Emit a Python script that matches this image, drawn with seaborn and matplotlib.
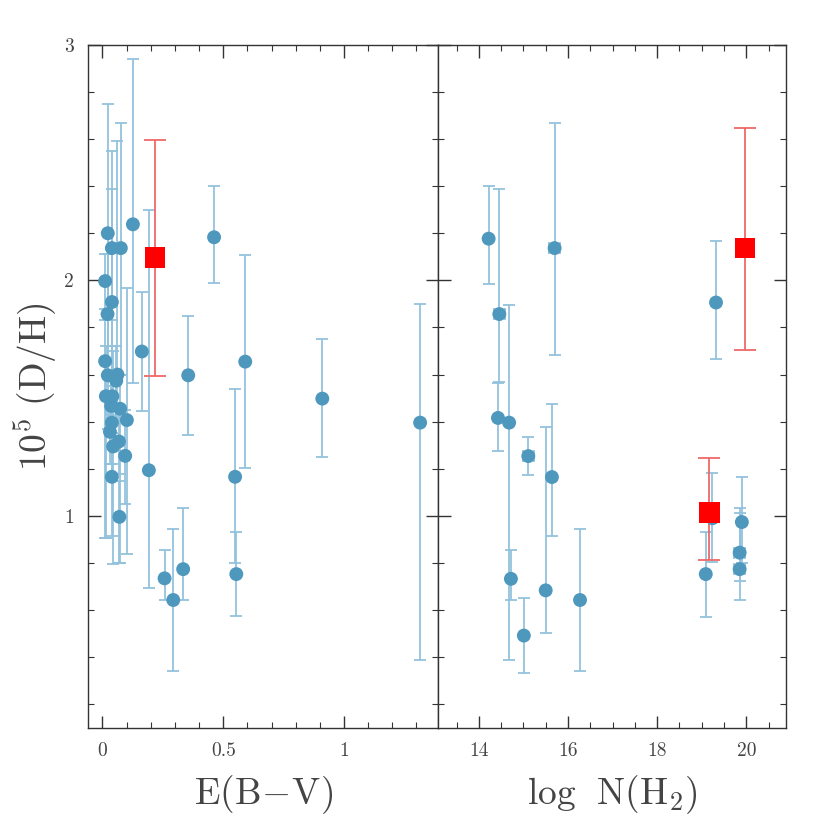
import numpy as np
import pandas as pd
import matplotlib
matplotlib.use("Agg")
import matplotlib.pyplot as plt
import seaborn as sns
from matplotlib.ticker import MultipleLocator

sns.set_style("ticks")
plt.rcParams['font.family'] = ['cmr10', 'DejaVu Serif']
plt.rcParams['mathtext.fontset'] = 'cm'
plt.rcParams['axes.formatter.use_mathtext'] = True
plt.rcParams['axes.unicode_minus'] = False

# left panel: E(B-V) vs 10^5 D/H (blue sightlines)
ebv = [0.022, 0.039, 0.076, 0.126, 0.011, 0.039, 0.021, 0.163, 0.011, 0.022,
       0.062, 0.057, 0.355, 0.014, 0.041, 0.036, 0.073, 0.101, 0.039, 0.031,
       0.044, 0.068, 0.094, 0.192, 0.039, 0.070, 0.257, 0.334, 0.462, 0.591,
       0.910, 1.315, 0.549, 0.554, 0.293]
dh_l = [2.20, 2.137, 2.137, 2.238, 1.997, 1.908, 1.857, 1.698, 1.657, 1.597,
        1.60, 1.574, 1.597, 1.508, 1.508, 1.467, 1.455, 1.407, 1.396, 1.357,
        1.295, 1.316, 1.255, 1.194, 1.166, 0.996, 0.735, 0.774, 2.183, 1.655,
        1.498, 1.396, 1.166, 0.753, 0.643]
dh_l_hi = [2.75, 2.55, 2.67, 2.94, 2.11, 2.39, 2.11, 1.95, 1.83, 1.83,
           2.59, 1.72, 1.847, 1.72, 1.83, 1.60, 1.60, 1.966, 1.55, 1.50,
           1.70, 1.45, 1.45, 2.30, 1.35, 1.15, 0.855, 1.034, 2.40, 2.106,
           1.75, 1.90, 1.54, 0.93, 0.945]
dh_l_lo = [1.65, 1.72, 1.60, 1.565, 1.88, 1.43, 1.60, 1.447, 0.906, 1.37,
           1.40, 1.40, 1.345, 0.906, 1.22, 1.30, 0.80, 0.84, 1.18, 1.22,
           0.795, 1.18, 1.05, 0.693, 0.915, 0.80, 0.643, 0.643, 1.99, 1.204,
           1.25, 0.39, 0.80, 0.575, 0.34]

# left panel red square
ebv_red = [0.218]
dh_l_red = [2.098]
dh_l_red_hi = [2.597]
dh_l_red_lo = [1.594]

# right panel: log N(H2) vs 10^5 D/H
logh2 = [14.22, 14.46, 14.43, 14.68, 14.72, 15.11, 15.01, 15.50, 15.64, 15.70,
         16.27, 19.09, 19.24, 19.32, 19.90, 19.85, 19.85]
logh2_err = [0, 0.13, 0, 0, 0, 0.13, 0, 0, 0, 0.13,
             0, 0, 0, 0, 0, 0.13, 0.13]
dh_r = [2.177, 1.857, 1.416, 1.396, 0.733, 1.254, 0.492, 0.684, 1.165, 2.137,
        0.643, 0.753, 0.99, 1.906, 0.974, 0.844, 0.774]
dh_r_hi = [2.40, 2.39, 1.566, 1.897, 0.855, 1.333, 0.652, 1.376, 1.476, 2.666,
           0.945, 0.933, 1.184, 2.167, 1.165, 1.034, 1.014]
dh_r_lo = [1.986, 1.57, 1.277, 0.39, 0.642, 1.174, 0.332, 0.502, 0.914, 1.685,
           0.34, 0.571, 0.804, 1.667, 0.80, 0.723, 0.642]

logh2_red = [19.17, 19.97]
dh_r_red = [1.014, 2.137]
dh_r_red_hi = [1.244, 2.646]
dh_r_red_lo = [0.814, 1.706]

blue = '#4e97bd'
blue_err = '#93c3dc'
red = '#ff0000'
red_err = '#f06868'
text_col = '#444444'

fig = plt.figure(figsize=(8.3, 8.3), dpi=100)
ax1 = fig.add_axes([0.106, 0.123, 0.422, 0.823])
ax2 = fig.add_axes([0.528, 0.123, 0.419, 0.823])


def draw(ax, x, y, hi, lo, xr, xred, yred, hired, lored):
    y = np.array(y)
    yerr = [y - np.array(lo), np.array(hi) - y]
    ax.errorbar(x, y, yerr=yerr, xerr=xr, fmt='none', ecolor=blue_err,
                elinewidth=1.3, capsize=4, capthick=1.3, zorder=1)
    yred = np.array(yred)
    ax.errorbar(xred, yred, yerr=[yred - np.array(lored), np.array(hired) - yred],
                fmt='none', ecolor=red_err, elinewidth=1.3, capsize=8,
                capthick=1.3, zorder=1)
    df = pd.DataFrame({'x': x, 'y': y})
    sns.scatterplot(data=df, x='x', y='y', ax=ax, color=blue, s=100,
                    edgecolor='none', zorder=3)
    dfr = pd.DataFrame({'x': xred, 'y': yred})
    sns.scatterplot(data=dfr, x='x', y='y', ax=ax, color=red, marker='s',
                    s=220, edgecolor='none', zorder=4)


draw(ax1, ebv, dh_l, dh_l_hi, dh_l_lo, None,
     ebv_red, dh_l_red, dh_l_red_hi, dh_l_red_lo)
draw(ax2, logh2, dh_r, dh_r_hi, dh_r_lo, logh2_err,
     logh2_red, dh_r_red, dh_r_red_hi, dh_r_red_lo)

ax1.set_xlim(-0.06, 1.39)
ax2.set_xlim(13.09, 20.89)
for ax in (ax1, ax2):
    ax.set_ylim(0.1, 3.0)
    ax.yaxis.set_major_locator(MultipleLocator(1))
    ax.yaxis.set_minor_locator(MultipleLocator(0.2))
    ax.tick_params(which='both', direction='in', top=True, right=True,
                   left=True, bottom=True, colors='#333333', labelsize=14,
                   labelcolor=text_col)
    ax.tick_params(which='major', length=9, width=1.0, pad=10)
    ax.tick_params(which='minor', length=4.5, width=0.8)
    for s in ax.spines.values():
        s.set_color('#333333')
        s.set_linewidth(1.0)
    ax.set_ylabel('')

ax1.xaxis.set_minor_locator(MultipleLocator(0.1))
ax1.set_xticks([0, 0.5, 1])
ax1.set_xticklabels(['0', '0.5', '1'])
ax2.xaxis.set_minor_locator(MultipleLocator(0.5))
ax2.set_xticks([14, 16, 18, 20])
ax2.set_xticklabels(['14', '16', '18', '20'])
ax2.tick_params(labelleft=False)
ax1.set_yticks([1, 2, 3])
ax1.set_yticklabels(['1', '2', '3'])

ax1.set_xlabel(r'$\mathrm{E(B\!-\!V)}$', fontsize=27, color=text_col, labelpad=10)
ax2.set_xlabel(r'$\mathrm{log\ \ N(H_2)}$', fontsize=27, color=text_col, labelpad=10)
ax1.set_ylabel(r'$\mathrm{10^5\ (D/H)}$', fontsize=27, color=text_col, labelpad=4)

fig.savefig('out.png', dpi=100)
